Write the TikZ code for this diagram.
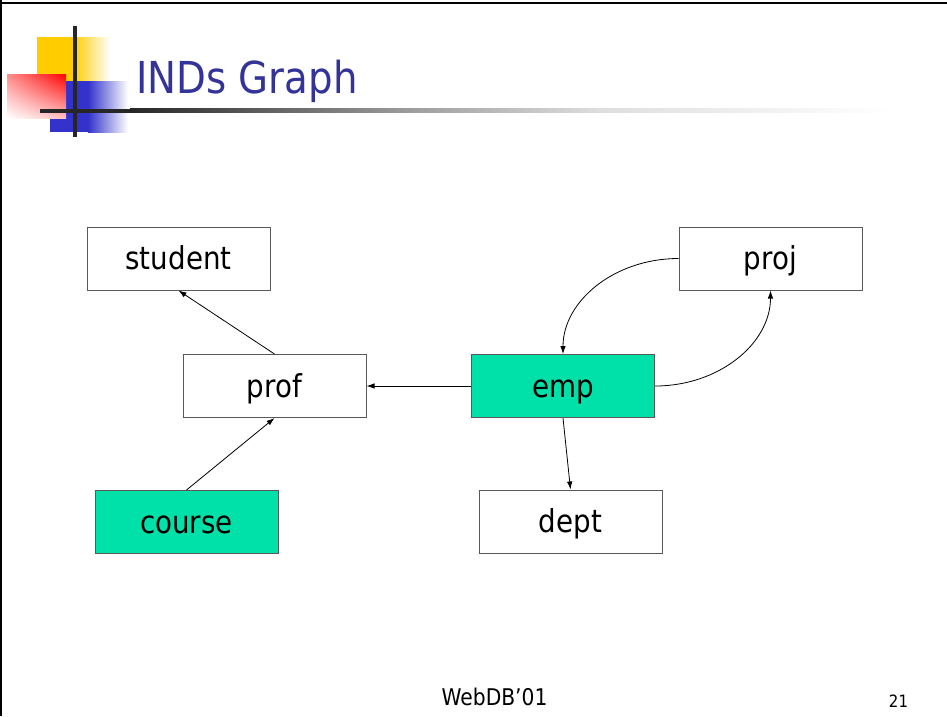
\documentclass[tikz,border=0pt]{standalone}
\usepackage{fontspec}
\setmainfont[FakeStretch=0.88]{DejaVu Sans}
\usetikzlibrary{arrows.meta,shadings}
\definecolor{titleblue}{RGB}{51,51,153}
\definecolor{boxgreen}{RGB}{0,225,170}
\definecolor{logoyellow}{RGB}{255,204,0}
\definecolor{logoblue}{RGB}{51,51,204}
\begin{document}
\begin{tikzpicture}[x=1pt,y=-1pt,
  box/.style={draw=black!65, line width=1pt, minimum width=183pt, minimum height=63pt,
    inner sep=0pt, text height=22pt, text depth=0pt, font=\fontsize{31.5}{36}\selectfont},
  greenbox/.style={box, fill=boxgreen},
  conn/.style={-{Latex[length=8pt,width=5.5pt]}, line width=0.8pt}]
\useasboundingbox (0,0) rectangle (947,716);
% frame
\draw[line width=2.5pt] (0,3) -- (947,3);
\draw[line width=2.5pt] (1,0) -- (1,716);
% logo
\fill[logoyellow] (37,37) rectangle (73.5,82);
\shade[left color=logoyellow, right color=white] (73,37) rectangle (110,82);
\fill[logoblue] (50,81) rectangle (88.5,132);
\shade[left color=logoblue, right color=white] (88,81) rectangle (128,132);
\shade[upper left=red!45, upper right=red, lower left=white, lower right=red!25] (7,74) rectangle (66,118);
\fill[black!85] (73,26) rectangle (77,137);
\fill[black!85] (40,108.5) rectangle (130.5,112.5);
\shade[left color=black!85, right color=black!40] (130,108.5) rectangle (400.5,112.5);
\shade[left color=black!40, right color=black!13] (400,108.5) rectangle (600.5,112.5);
\shade[left color=black!13, right color=white] (600,108.5) rectangle (890,112.5);
% title
\node[anchor=base west, text=titleblue, font=\fontsize{44}{50}\selectfont, inner sep=0pt] (title) at (136,93) {INDs Graph};
% boxes
\node[box] (student) at (178.5,258.5) {student};
\node[box] (proj) at (770.5,258.5) {proj};
\node[box] (prof) at (274.5,386) {prof};
\node[greenbox] (emp) at (563,386) {emp};
\node[greenbox] (course) at (186.5,522) {course};
\node[box] (dept) at (570.5,521.5) {dept};
% connectors
\draw[conn] (prof.north) -- (student.south);
\draw[conn] (course.north) -- (prof.south);
\draw[conn] (emp.west) -- (prof.east);
\draw[conn] (emp.south) -- (dept.north);
\draw[conn] (proj.west) .. controls +(-64,0) and +(0,-53) .. (emp.north);
\draw[conn] (emp.east) .. controls +(64,0) and +(0,53) .. (proj.south);
% footer
\node[anchor=base, font=\fontsize{23}{28}\selectfont, inner sep=0pt] (footer) at (494.5,705) {WebDB’01};
\node[anchor=base, font=\fontsize{17}{20}\selectfont, inner sep=0pt] (page) at (898.5,707) {21};
\end{tikzpicture}
\end{document}
